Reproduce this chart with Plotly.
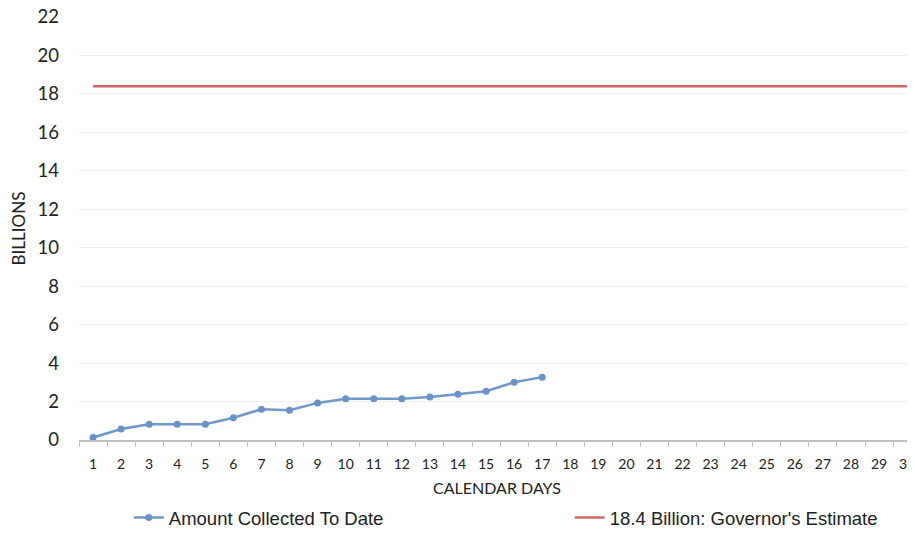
import plotly.graph_objects as go

days = [str(d) for d in range(1, 31)]
collected_days = [str(d) for d in range(1, 18)]
collected = [0.13, 0.57, 0.82, 0.82, 0.82, 1.16, 1.6, 1.55, 1.93, 2.15, 2.15, 2.15, 2.24, 2.38, 2.54, 3.0, 3.27]
estimate = [18.4] * 30
y_ticks = list(range(0, 23, 2))

fig = go.Figure()
fig.add_trace(go.Scatter(
    x=collected_days, y=collected, mode="lines+markers",
    name="Amount Collected To Date",
    line=dict(color="#7097c9", width=2.5),
    marker=dict(color="#6a92c6", size=7),
    legend="legend",
))
fig.add_trace(go.Scatter(
    x=days, y=estimate, mode="lines",
    name="18.4 Billion: Governor's Estimate",
    line=dict(color="#cf6866", width=2.5),
    legend="legend2",
))

legend_font = dict(family="Liberation Sans, Arial, sans-serif", size=18.5, color="#222")

fig.update_layout(
    width=915, height=544,
    margin=dict(l=71, r=8, t=9, b=112),
    paper_bgcolor="white", plot_bgcolor="white",
    font=dict(family="Lato, Open Sans, sans-serif", color="#222"),
    xaxis=dict(
        type="category", categoryorder="array", categoryarray=days,
        range=[-0.5, 29.28], tickson="boundaries", ticks="outside",
        ticklen=5, tickcolor="#bfbfbf", showline=True, linecolor="#bfbfbf",
        linewidth=1.5, showgrid=False, tickfont=dict(size=14),
        ticklabelstandoff=10, automargin=False, ticklabeloverflow="allow",
        title=dict(text="CALENDAR DAYS", font=dict(size=16), standoff=12),
    ),
    yaxis=dict(
        range=[0, 22], tickvals=y_ticks, showgrid=True, gridcolor="#efefef",
        zeroline=False, tickfont=dict(size=18.5), ticks="",
        ticklabelstandoff=19, automargin=False, ticklabeloverflow="allow",
        title=dict(text="BILLIONS", font=dict(size=17), standoff=9),
    ),
    showlegend=True,
    legend=dict(
        orientation="h", x=0.0596, xanchor="left",
        yref="container", y=1 - 510 / 544, yanchor="middle",
        font=legend_font,
    ),
    legend2=dict(
        orientation="h", x=0.587, xanchor="left",
        yref="container", y=1 - 510 / 544, yanchor="middle",
        font=legend_font,
    ),
)

fig.write_html("out.html")
